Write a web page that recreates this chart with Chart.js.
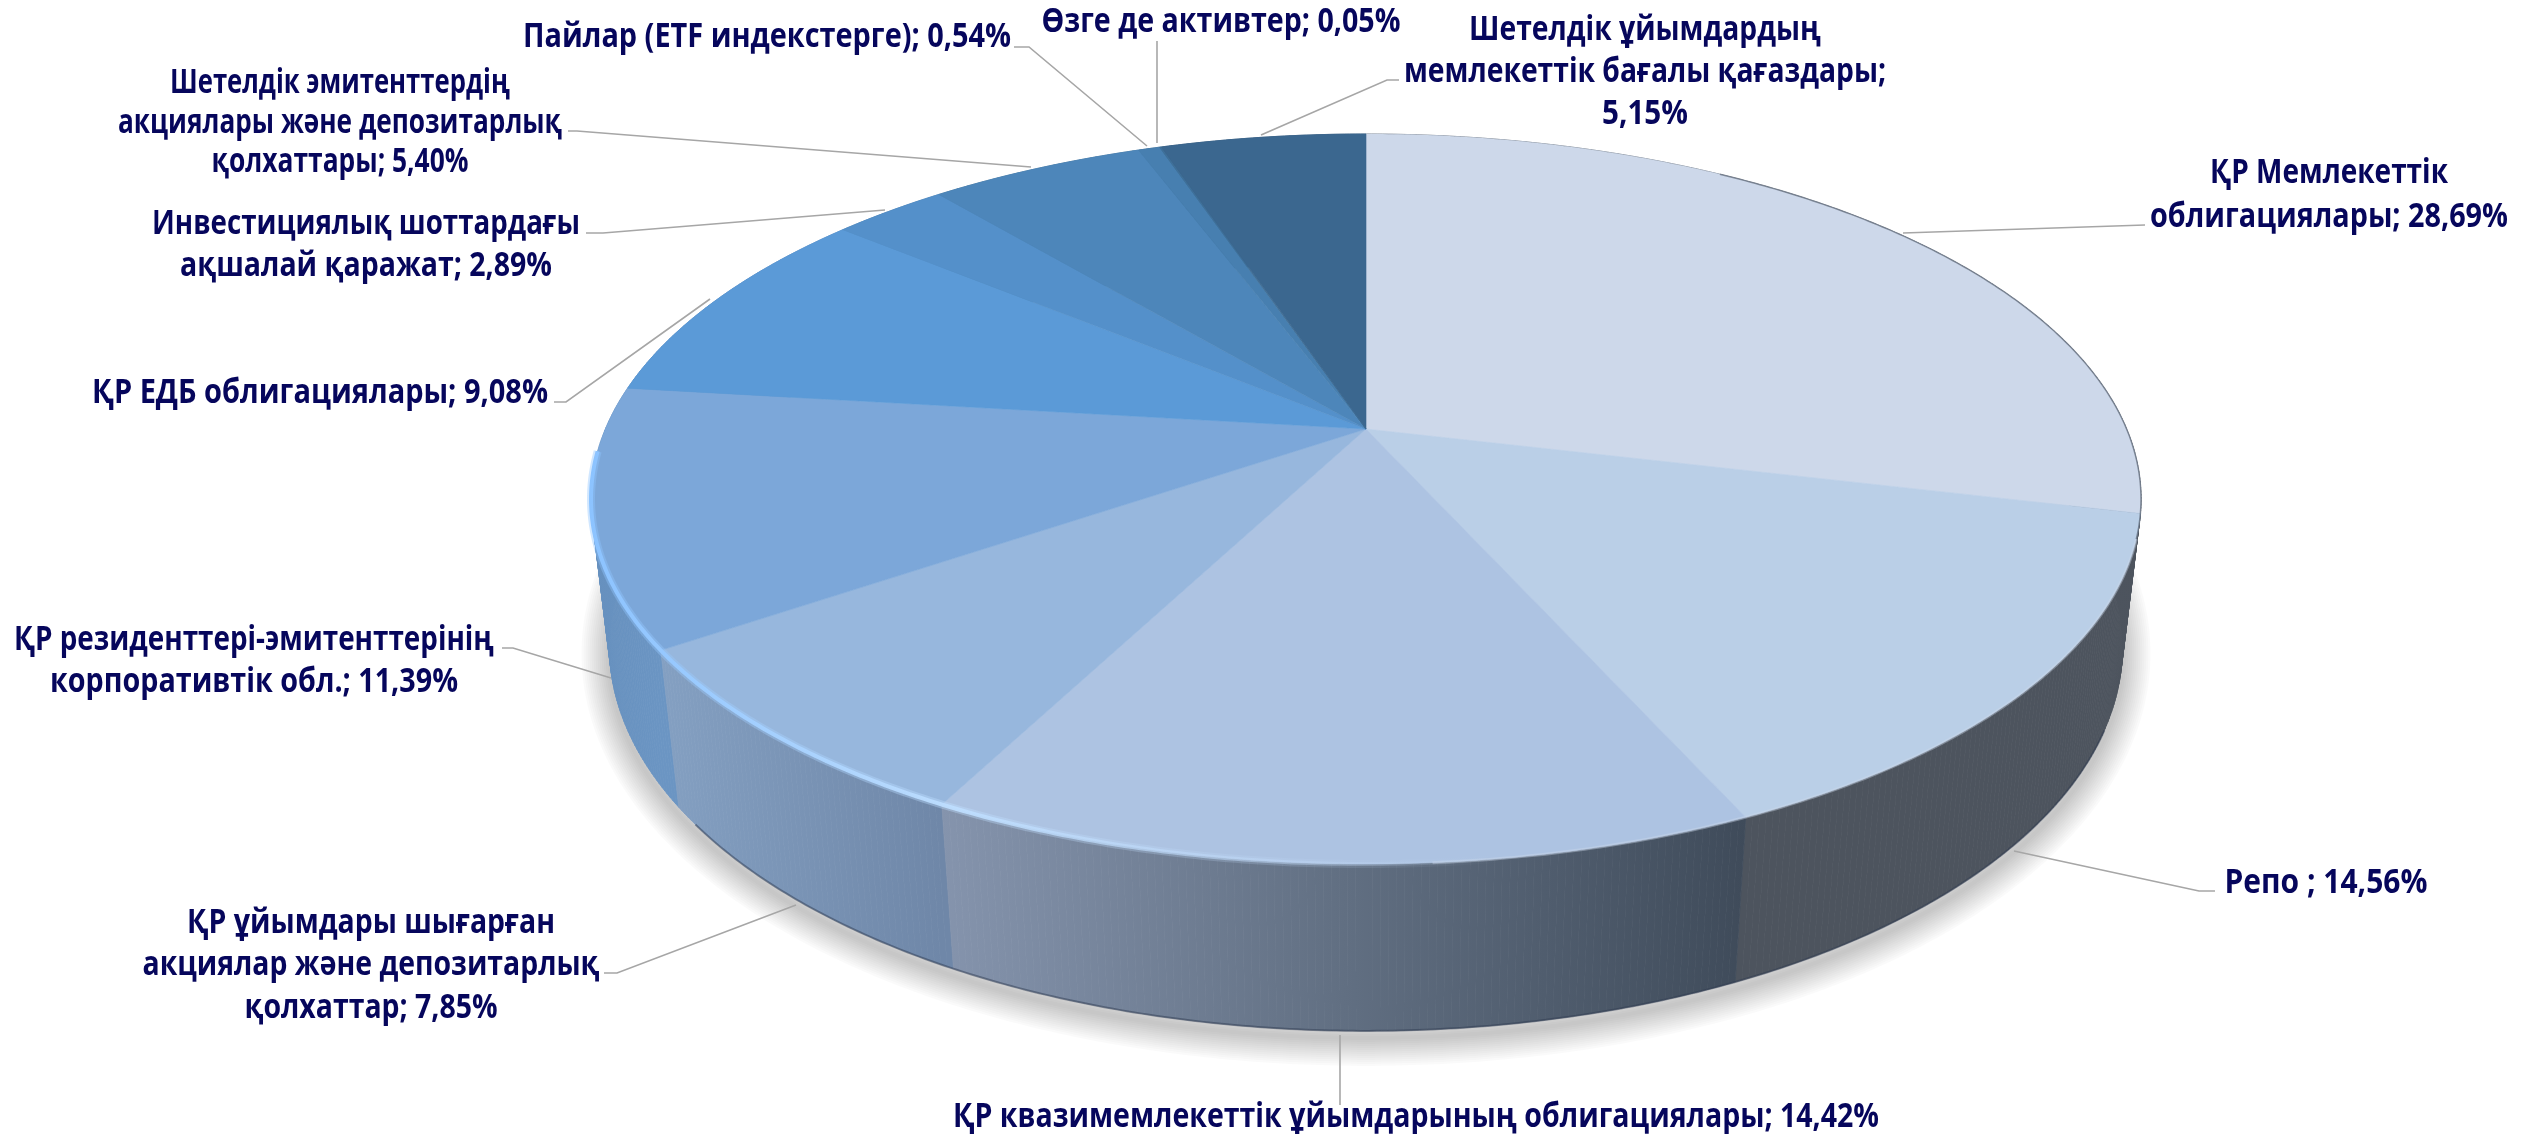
<!DOCTYPE html>
<html lang="kk">

<head>
  <meta charset="UTF-8">
  <title>Chart</title>
  <style>
    html,
    body {
      margin: 0;
      background: #fff;
    }

    #myChart {
      display: block;
    }
  </style>
</head>

<body>
  <canvas id="myChart" width="2526" height="1134"></canvas>
  <script src="https://cdn.jsdelivr.net/npm/chart.js@4"></script>
  <script>
    const categories = [
      'ҚР Мемлекеттік облигациялары',
      'Репо',
      'ҚР квазимемлекеттік ұйымдарының облигациялары',
      'ҚР ұйымдары шығарған акциялар және депозитарлық қолхаттар',
      'ҚР резиденттері-эмитенттерінің корпоративтік обл.',
      'ҚР ЕДБ облигациялары',
      'Инвестициялық шоттардағы ақшалай қаражат',
      'Шетелдік эмитенттердің акциялары және депозитарлық қолхаттары',
      'Пайлар (ETF индекстерге)',
      'Өзге де активтер',
      'Шетелдік ұйымдардың мемлекеттік бағалы қағаздары'
    ]
    const values = [28.69, 14.56, 14.42, 7.85, 11.39, 9.08, 2.89, 5.40, 0.54, 0.05, 5.15]
    const topColors = ['#CDD8EA', '#BACFE7', '#ADC3E2', '#97B7DD', '#7CA7D9', '#5B9AD7', '#5490CA', '#4D86BA', '#477FB0', '#3F7099', '#3B678F']
    const wallColors = [
      ['#4D545E', '#4D545E'], ['#4D545E', '#4D545E'], ['#8594AD', '#616F82', '#3F4B5A'], ['#84A0C2', '#6F87A8'],
      ['#6690BE', '#6B95C3'], ['#5B8AC0', '#5B8AC0'], ['#4D7FAF', '#4D7FAF'], ['#457499', '#457499'],
      ['#406C90', '#406C90'], ['#3A6286', '#3A6286'], ['#35597A', '#35597A']
    ]

    // text lines as printed, one entry per slice
    const labelLines = [
      ['ҚР Мемлекеттік', 'облигациялары; 28,69%'],
      ['Репо ; 14,56%'],
      ['ҚР квазимемлекеттік ұйымдарының облигациялары; 14,42%'],
      ['ҚР ұйымдары шығарған', 'акциялар және депозитарлық', 'қолхаттар; 7,85%'],
      ['ҚР резиденттері-эмитенттерінің', 'корпоративтік обл.; 11,39%'],
      ['ҚР ЕДБ облигациялары; 9,08%'],
      ['Инвестициялық шоттардағы', 'ақшалай қаражат; 2,89%'],
      ['Шетелдік эмитенттердің', 'акциялары және депозитарлық', 'қолхаттары; 5,40%'],
      ['Пайлар (ETF индекстерге); 0,54%'],
      ['Өзге де активтер; 0,05%'],
      ['Шетелдік ұйымдардың', 'мемлекеттік бағалы қағаздары;', '5,15%']
    ]
    // where the labels sit: centre x, then mid y and printed width of each line
    const labelPlaces = [
      { x: 2329, y: [173, 217], w: [238, 358] },
      { x: 2326, y: [883], w: [203] },
      { x: 1416, y: [1117], w: [926] },
      { x: 371, y: [923, 965, 1008], w: [368, 457, 253] },
      { x: 254, y: [640, 682], w: [480, 408] },
      { x: 320, y: [393], w: [456] },
      { x: 366, y: [224, 266], w: [428, 372] },
      { x: 340, y: [83, 123, 162], w: [340, 444, 257] },
      { x: 767, y: [37], w: [488] },
      { x: 1221, y: [22], w: [359] },
      { x: 1645, y: [30, 72, 114], w: [352, 482, 86] }
    ]
    const leaderPaths = [
      [[2145, 225], [1903, 233]],
      [[2215, 891], [2199, 891], [2014, 851]],
      [[1340, 1105], [1340, 1035]],
      [[604, 973], [617, 973], [796, 905]],
      [[502, 648], [513, 648], [611, 678]],
      [[554, 402], [566, 402], [710, 299]],
      [[586, 233], [603, 233], [885, 210]],
      [[568, 131], [577, 131], [1031, 167]],
      [[1014, 47], [1029, 47], [1147, 146]],
      [[1157, 41], [1157, 143]],
      [[1399, 80], [1387, 80], [1261, 135]]
    ]

    // view of the tilted disc
    const HALF_W = 760.6
    const HALF_H = 351.6
    const PERSP = 0.1918
    const WALL = 149
    const DEPTH = 0.0235
    const STEP = Math.PI / 360

    function project(arc, t, bottom) {
      const w = 1 / (1 - PERSP * Math.sin(t) + (bottom ? DEPTH : 0))
      return {
        x: arc.x + HALF_W * Math.cos(t) * w,
        y: arc.y + (HALF_H * Math.sin(t) + (bottom ? WALL : 0)) * w
      }
    }

    function rimPoints(arc, from, to, bottom) {
      const pts = []
      const n = Math.max(1, Math.ceil((to - from) / STEP))
      for (let i = 0; i <= n; i++) pts.push(project(arc, from + (to - from) * i / n, bottom))
      return pts
    }

    function tracePath(ctx, pts) {
      pts.forEach((p, i) => (i ? ctx.lineTo(p.x, p.y) : ctx.moveTo(p.x, p.y)))
    }

    // soft floor shadow: stacked strokes of the foot outline, widest first
    function drawShadow(ctx, arc) {
      ctx.save()
      ctx.translate(0, 7)
      ctx.lineJoin = 'round'
      ctx.strokeStyle = 'rgba(0,0,0,0.018)'
      const foot = rimPoints(arc, 0, Math.PI * 2, true)
      for (let i = 14; i > 0; i--) {
        ctx.lineWidth = i * 4
        ctx.beginPath()
        tracePath(ctx, foot)
        ctx.closePath()
        ctx.stroke()
      }
      ctx.restore()
    }

    function drawWalls(ctx, arcs) {
      const order = arcs.map((arc, i) => i).sort((a, b) =>
        Math.sin((arcs[a].startAngle + arcs[a].endAngle) / 2) - Math.sin((arcs[b].startAngle + arcs[b].endAngle) / 2))
      order.forEach(i => {
        const arc = arcs[i]
        const top = rimPoints(arc, arc.startAngle, arc.endAngle, false)
        const bot = rimPoints(arc, arc.startAngle, arc.endAngle, true)
        const xs = top.map(p => p.x)
        const grad = ctx.createLinearGradient(Math.min(...xs), 0, Math.max(...xs), 0)
        wallColors[i].forEach((c, k) => grad.addColorStop(k / (wallColors[i].length - 1), c))
        ctx.fillStyle = grad
        ctx.strokeStyle = grad
        ctx.lineWidth = 0.8
        // one quad per step: the strip folds over at the silhouette
        for (let k = 0; k < top.length - 1; k++) {
          ctx.beginPath()
          tracePath(ctx, [top[k], top[k + 1], bot[k + 1], bot[k]])
          ctx.closePath()
          ctx.fill()
          ctx.stroke()
        }
      })
      // darker foot of the wall
      ctx.strokeStyle = 'rgba(45,58,80,0.5)'
      ctx.lineWidth = 2
      ctx.beginPath()
      tracePath(ctx, rimPoints(arcs[0], 0.4, 2.5, true))
      ctx.stroke()
    }

    function drawTop(ctx, arcs) {
      arcs.forEach((arc, i) => {
        ctx.fillStyle = topColors[i]
        ctx.strokeStyle = topColors[i]
        ctx.lineWidth = 0.6
        ctx.beginPath()
        ctx.moveTo(arc.x, arc.y)
        rimPoints(arc, arc.startAngle, arc.endAngle, false).forEach(p => ctx.lineTo(p.x, p.y))
        ctx.closePath()
        ctx.fill()
        ctx.stroke()
      })
    }

    function drawRim(ctx, arc) {
      // thin grey edge on the far right
      ctx.save()
      ctx.strokeStyle = 'rgba(80,90,105,0.6)'
      ctx.lineWidth = 1.5
      ctx.beginPath()
      tracePath(ctx, rimPoints(arc, -1, 0.3, false))
      ctx.stroke()

      // pale blurred seam where the right wall meets the top
      ctx.strokeStyle = 'rgba(205,218,235,0.4)'
      ctx.lineWidth = 3
      ctx.beginPath()
      tracePath(ctx, rimPoints(arc, 0.3, 1.5, false))
      ctx.stroke()

      // soft light band along the front
      const band = ctx.createLinearGradient(590, 0, 1500, 0)
      band.addColorStop(0, 'rgba(140,195,255,1)')
      band.addColorStop(0.4, 'rgba(190,222,255,0.95)')
      band.addColorStop(0.75, 'rgba(190,215,245,0.5)')
      band.addColorStop(1, 'rgba(190,210,235,0)')
      ctx.strokeStyle = band
      const front = rimPoints(arc, Math.PI * 0.45, Math.PI * 0.98, false)
      ctx.globalAlpha = 0.4
      ctx.lineWidth = 8
      ctx.beginPath()
      tracePath(ctx, front)
      ctx.stroke()
      ctx.globalAlpha = 1
      ctx.lineWidth = 4
      ctx.beginPath()
      tracePath(ctx, front)
      ctx.stroke()
      ctx.restore()
    }

    function drawLeaders(ctx) {
      ctx.strokeStyle = '#A6A6A6'
      ctx.lineWidth = 1.6
      leaderPaths.forEach(path => {
        ctx.beginPath()
        path.forEach((p, i) => (i ? ctx.lineTo(p[0], p[1]) : ctx.moveTo(p[0], p[1])))
        ctx.stroke()
      })
    }

    function drawLabels(ctx) {
      ctx.font = 'bold 34px "Open Sans", "Noto Sans", sans-serif'
      ctx.fillStyle = '#06065C'
      ctx.textAlign = 'center'
      ctx.textBaseline = 'middle'
      labelLines.forEach((lines, i) => {
        const place = labelPlaces[i]
        lines.forEach((line, k) => {
          const squeeze = place.w[k] / ctx.measureText(line).width
          ctx.save()
          ctx.translate(place.x, place.y[k])
          ctx.scale(squeeze, 1)
          ctx.fillText(line, 0, 0)
          ctx.restore()
        })
      })
    }

    const tiltedPie = {
      id: 'tiltedPie',
      beforeDatasetsDraw(chart) {
        const ctx = chart.ctx
        const arcs = chart.getDatasetMeta(0).data
        ctx.save()
        drawShadow(ctx, arcs[0])
        drawWalls(ctx, arcs)
        drawTop(ctx, arcs)
        drawRim(ctx, arcs[0])
        drawLeaders(ctx)
        drawLabels(ctx)
        ctx.restore()
        return false
      }
    }

    new Chart(document.querySelector('#myChart').getContext('2d'), {
      type: 'pie',
      plugins: [tiltedPie],
      data: {
        labels: categories,
        datasets: [{ data: values, backgroundColor: topColors, borderWidth: 0 }]
      },
      options: {
        responsive: false,
        animation: false,
        // puts the pie centre at 1366,429
        layout: { padding: { left: 206, bottom: 276 } },
        plugins: { legend: { display: false }, tooltip: { enabled: false } }
      }
    })
  </script>
</body>

</html>
